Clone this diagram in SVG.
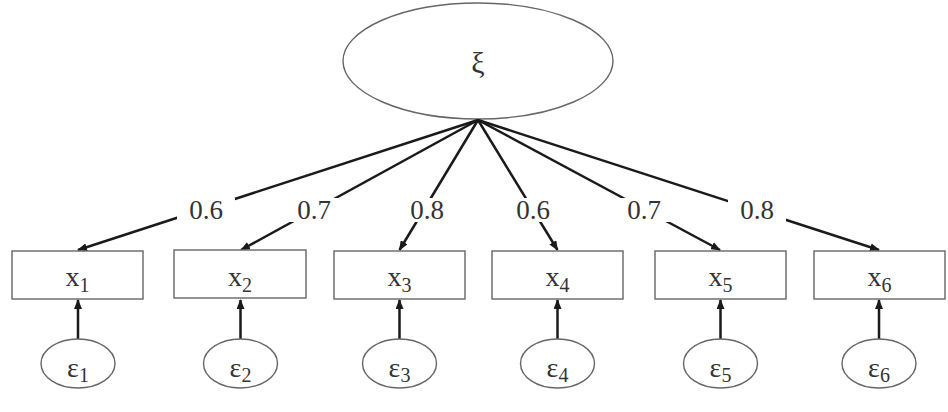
<svg xmlns="http://www.w3.org/2000/svg" width="948" height="412" viewBox="0 0 948 412">
  <style>
    .node { fill: #fff; stroke: #666; stroke-width: 1.4; }
    .edge { stroke: #1a1a1a; stroke-width: 2.5; fill: none; marker-end: url(#head); }
    .lbl { font-family: "Liberation Serif", "Times New Roman", serif; font-size: 27px; fill: #333; text-anchor: middle; }
    .sym { font-family: "Liberation Serif", "Times New Roman", serif; font-size: 28px; fill: #333; text-anchor: middle; }
    .sub { font-size: 20px; }
    .gap { fill: #fff; }
  </style>
  <defs>
    <marker id="head" markerUnits="userSpaceOnUse" markerWidth="10" markerHeight="8" refX="9" refY="4" orient="auto">
      <path d="M0,0 L10,4 L0,8 z" fill="#1a1a1a"/>
    </marker>
  </defs>

  <!-- latent factor -->
  <g id="xi">
    <ellipse class="node" cx="478" cy="61" rx="135" ry="58"/>
    <text class="sym" x="478" y="73" style="font-size:30px">ξ</text>
  </g>

  <!-- connectors: loadings and error paths -->
  <g id="connectors">
    <line class="edge" x1="478" y1="120" x2="78" y2="250"/>
    <line class="edge" x1="478" y1="120" x2="241" y2="250"/>
    <line class="edge" x1="478" y1="120" x2="399.5" y2="250"/>
    <line class="edge" x1="478" y1="120" x2="557.5" y2="250"/>
    <line class="edge" x1="478" y1="120" x2="720" y2="250"/>
    <line class="edge" x1="478" y1="120" x2="879" y2="250"/>

    <line class="edge" x1="78" y1="339" x2="78" y2="300"/>
    <line class="edge" x1="240.5" y1="339" x2="240.5" y2="300"/>
    <line class="edge" x1="399.5" y1="339" x2="399.5" y2="300"/>
    <line class="edge" x1="557.5" y1="339" x2="557.5" y2="300"/>
    <line class="edge" x1="720.5" y1="339" x2="720.5" y2="300"/>
    <line class="edge" x1="879" y1="339" x2="879" y2="300"/>

    <!-- loading labels, set on a white patch that breaks the line -->
    <rect class="gap" x="177" y="198" width="58" height="24"/>
    <text class="lbl" x="206" y="219">0.6</text>
    <rect class="gap" x="285" y="198" width="58" height="24"/>
    <text class="lbl" x="314" y="219">0.7</text>
    <rect class="gap" x="398" y="198" width="58" height="24"/>
    <text class="lbl" x="427" y="219">0.8</text>
    <rect class="gap" x="504" y="198" width="58" height="24"/>
    <text class="lbl" x="533" y="219">0.6</text>
    <rect class="gap" x="615" y="198" width="58" height="24"/>
    <text class="lbl" x="644" y="219">0.7</text>
    <rect class="gap" x="728" y="198" width="58" height="24"/>
    <text class="lbl" x="757" y="219">0.8</text>
  </g>

  <!-- indicators -->
  <g id="x1">
    <rect class="node" x="12" y="251" width="131" height="48"/>
    <text class="sym" x="77.5" y="286">x<tspan class="sub" dy="6">1</tspan></text>
  </g>
  <g id="x2">
    <rect class="node" x="174" y="250" width="132" height="48"/>
    <text class="sym" x="240" y="286">x<tspan class="sub" dy="6">2</tspan></text>
  </g>
  <g id="x3">
    <rect class="node" x="334" y="251" width="131" height="48"/>
    <text class="sym" x="399.5" y="286">x<tspan class="sub" dy="6">3</tspan></text>
  </g>
  <g id="x4">
    <rect class="node" x="492" y="251" width="131" height="48"/>
    <text class="sym" x="557.5" y="286">x<tspan class="sub" dy="6">4</tspan></text>
  </g>
  <g id="x5">
    <rect class="node" x="655" y="251" width="131" height="48"/>
    <text class="sym" x="720.5" y="286">x<tspan class="sub" dy="6">5</tspan></text>
  </g>
  <g id="x6">
    <rect class="node" x="814" y="251" width="131" height="48"/>
    <text class="sym" x="879.5" y="286">x<tspan class="sub" dy="6">6</tspan></text>
  </g>

  <!-- error terms -->
  <g id="e1">
    <ellipse class="node" cx="78" cy="363.5" rx="37" ry="24.5"/>
    <text class="sym" x="78" y="377">ε<tspan class="sub" dy="5">1</tspan></text>
  </g>
  <g id="e2">
    <ellipse class="node" cx="240.5" cy="363.5" rx="37" ry="24.5"/>
    <text class="sym" x="240.5" y="377">ε<tspan class="sub" dy="5">2</tspan></text>
  </g>
  <g id="e3">
    <ellipse class="node" cx="399.5" cy="363.5" rx="37" ry="24.5"/>
    <text class="sym" x="399.5" y="377">ε<tspan class="sub" dy="5">3</tspan></text>
  </g>
  <g id="e4">
    <ellipse class="node" cx="557.5" cy="363.5" rx="37" ry="24.5"/>
    <text class="sym" x="557.5" y="377">ε<tspan class="sub" dy="5">4</tspan></text>
  </g>
  <g id="e5">
    <ellipse class="node" cx="720.5" cy="363.5" rx="37" ry="24.5"/>
    <text class="sym" x="720.5" y="377">ε<tspan class="sub" dy="5">5</tspan></text>
  </g>
  <g id="e6">
    <ellipse class="node" cx="879" cy="363.5" rx="37" ry="24.5"/>
    <text class="sym" x="879" y="377">ε<tspan class="sub" dy="5">6</tspan></text>
  </g>
</svg>
